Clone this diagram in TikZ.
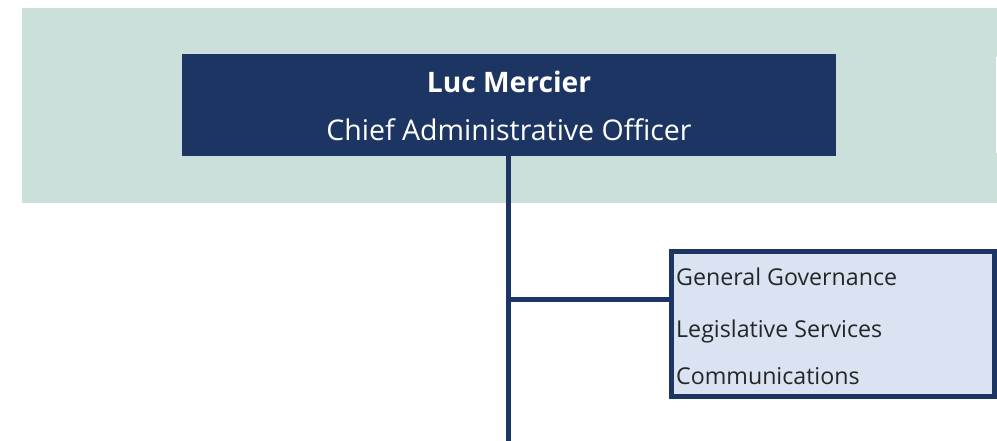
\documentclass[tikz,border=0pt]{standalone}
\usepackage{fontspec}
\setmainfont{Open Sans}
\definecolor{navy}{HTML}{1D3562}
\definecolor{bandgreen}{HTML}{CCE0DB}
\definecolor{deptfill}{HTML}{DAE3F2}
\definecolor{deptink}{HTML}{262626}
\tikzset{
  band/.style={rectangle, fill=bandgreen, inner sep=0pt, outer sep=0pt},
  leadbox/.style={rectangle, fill=navy, inner sep=0pt, outer sep=0pt},
  deptbox/.style={rectangle, fill=deptfill, draw=navy, line width=4.7pt, inner sep=0pt, outer sep=0pt},
  deptline/.style={anchor=base west, inner sep=0pt, text=deptink, font=\fontsize{23.2}{28}\selectfont},
  link/.style={draw=navy, line width=5pt},
}
\begin{document}
\begin{tikzpicture}[x=1pt,y=-1pt]
  \useasboundingbox (0,0) rectangle (997,441);
  % executive band
  \node[band, minimum width=975pt, minimum height=195pt] (band) at (509.5,105.5) {};
  \draw[white, line width=1pt] (996.5,57) -- (996.5,153);
  % chief administrative officer
  \node[leadbox, minimum width=654pt, minimum height=102pt] (cao) at (509,105) {};
  \node[anchor=base, inner sep=0pt, text=white, font=\fontsize{28.2}{34}\selectfont\bfseries] (caoname) at (509,93) {Luc Mercier};
  \node[anchor=base, inner sep=0pt, text=white, font=\fontsize{28.5}{34}\selectfont] (caotitle) at (509,141) {Chief Administrative Officer};
  % department box
  \node[deptbox, minimum width=323.3pt, minimum height=145.3pt] (dept) at (833,324) {};
  \node[deptline] (gg) at (676,285.5) {General Governance};
  \node[deptline] (ls) at (676,337) {Legislative Services};
  \node[deptline] (cm) at (676,384) {Communications};
  % connectors
  \coordinate (trunkend) at (508.5,441);
  \coordinate (junction) at (508.5,299.5);
  \draw[link] (cao.south -| trunkend) -- (trunkend);
  \draw[link] (junction) -- (dept.west |- junction);
\end{tikzpicture}
\end{document}
